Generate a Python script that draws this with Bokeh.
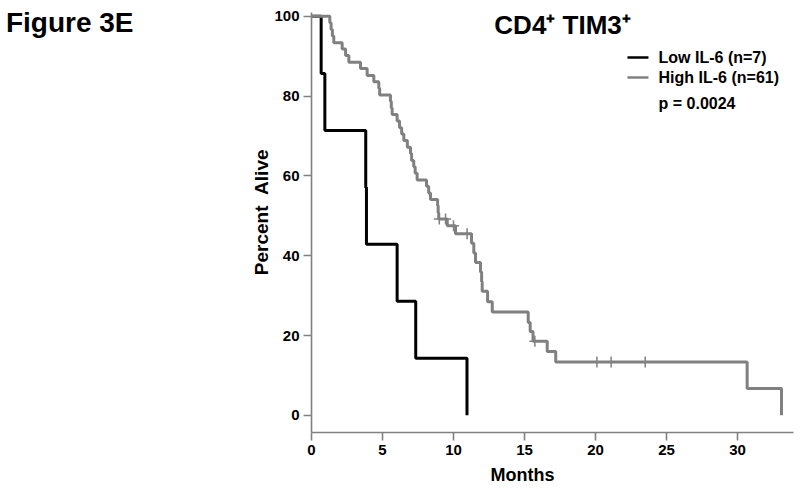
import numpy as np
from bokeh.plotting import figure
from bokeh.models import Label, Range1d, FixedTicker, LinearAxis
from bokeh.embed import file_html
from bokeh.resources import INLINE

# ---- data ----
low_t = [0, 0.68, 0.94, 3.82, 3.87, 6.03, 7.34, 10.95]
low_s = [100, 85.7, 71.4, 57.1, 42.9, 28.6, 14.3, 0]

high_t = [0, 1.29, 1.38, 1.47, 1.57, 2.16, 2.40, 2.63, 3.45, 3.92, 4.39, 4.74, 4.80,
          5.56, 5.62, 5.68, 6.03, 6.20, 6.35, 6.50, 6.75, 6.97, 7.05, 7.20, 7.30, 7.44,
          8.10, 8.25, 8.38, 8.88, 8.92, 8.96, 9.56, 10.14, 11.27, 11.43, 11.55, 11.90,
          11.98, 12.02, 12.40, 12.73, 15.26, 15.40, 15.60, 16.60, 17.20, 30.68, 33.10]
high_s = [100, 98.4, 96.7, 95.1, 93.4, 91.8, 90.2, 88.5, 86.9, 85.2, 83.6, 82.0, 80.3,
          78.7, 77.0, 75.4, 73.8, 72.1, 70.5, 68.9, 67.2, 65.6, 63.9, 62.3, 60.7, 59.0,
          57.4, 55.7, 54.1, 52.5, 50.8, 49.2, 47.5, 45.5, 43.1, 40.7, 38.3, 35.9,
          33.5, 31.1, 28.5, 25.9, 23.3, 21.0, 18.6, 16.0, 13.4, 6.7, 0]
high_censor_t = [9.0, 9.44, 10.0, 10.96, 15.73, 20.1, 21.1, 23.5]

x_ticks = [0, 5, 10, 15, 20, 25, 30]
y_ticks = [0, 20, 40, 60, 80, 100]

title_text = "CD4\u207a TIM3\u207a"
fig_label = "Figure 3E"
legend_labels = ["Low IL-6 (n=7)", "High IL-6 (n=61)"]
p_text = "p = 0.0024"
x_title = "Months"
y_title = "Percent\u00a0\u00a0Alive"

# ---- layout ----
W, H = 800, 489
LEFT, RIGHT, TOP, BOTTOM = 311, 7, 12, 57
XPX = 14.2   # px per month
YPX = 3.99   # px per percent
x_end = (W - LEFT - RIGHT) / XPX
frame_h = H - TOP - BOTTOM
y_start = -4.3
y_end = y_start + frame_h / YPX

LOW_C = "black"
HIGH_C = "#808080"
AX_C = "#808080"
FONT = "Liberation Sans"


def dx(px):  # canvas pixel x -> data
    return round((px - LEFT) / XPX, 2)


def dy(py):  # canvas pixel y -> data
    return round(y_start + (H - BOTTOM - py) / YPX, 2)


p = figure(width=W, height=H, x_range=Range1d(0, x_end), y_range=Range1d(y_start, y_end),
           min_border_left=LEFT, min_border_right=RIGHT, min_border_top=TOP,
           min_border_bottom=BOTTOM, toolbar_location=None, output_backend="svg")
p.outline_line_color = None
p.xgrid.visible = False
p.ygrid.visible = False
p.background_fill_color = "white"
p.border_fill_color = "white"

for ax in (p.xaxis[0], p.yaxis[0]):
    ax.axis_line_color = AX_C
    ax.axis_line_width = 1.6
    ax.major_tick_line_color = AX_C
    ax.major_tick_line_width = 1.6
    ax.major_tick_out = 8
    ax.major_tick_in = 0
    ax.minor_tick_line_color = None
    ax.major_label_text_font = FONT
    ax.major_label_text_font_style = "bold"
    ax.major_label_text_font_size = "15px"
    ax.major_label_text_color = "black"
    ax.major_label_standoff = 4

p.xaxis.ticker = FixedTicker(ticks=x_ticks)
p.yaxis.ticker = FixedTicker(ticks=y_ticks)


def text_axis(tick, label, size, standoff, orientation="horizontal"):
    ax = LinearAxis(ticker=FixedTicker(ticks=[tick]), major_label_overrides={tick: label})
    ax.axis_line_color = None
    ax.major_tick_line_color = None
    ax.minor_tick_line_color = None
    ax.major_tick_out = 0
    ax.major_tick_in = 0
    ax.major_label_standoff = standoff
    ax.major_label_orientation = orientation
    ax.major_label_text_font = FONT
    ax.major_label_text_font_style = "bold"
    ax.major_label_text_font_size = size
    ax.major_label_text_color = "black"
    return ax


# "Months" centred under the 0-30 ticks
p.add_layout(text_axis(dx(522), x_title, "18px", 7), "below")
# "Percent  Alive" beside the y ticks (label is anchored at its top end)
p.add_layout(text_axis(dy(149), y_title, "19px", 10, np.pi / 2), "left")
# "Figure 3E" in the top-left corner
p.add_layout(text_axis(dy(22), fig_label, "28px", 104), "left")

# curves
p.step(low_t, low_s, mode="after", line_color=LOW_C, line_width=3)
p.step(high_t, high_s, mode="after", line_color=HIGH_C, line_width=3)

ht = np.array(high_t)
hs = np.array(high_s)
idx = np.searchsorted(ht, np.array(high_censor_t), side="right") - 1
p.scatter(high_censor_t, hs[idx], marker="cross", size=11, line_color=HIGH_C, line_width=1.5)

# legend (manual)
sw_x0, sw_x1, tx = dx(627), dx(648), dx(658)
for lab, col, py in zip(legend_labels, [LOW_C, HIGH_C], [57, 77]):
    p.segment(x0=[sw_x0], y0=[dy(py)], x1=[sw_x1], y1=[dy(py)], line_color=col, line_width=2.5)
    p.add_layout(Label(x=tx, y=dy(py), text=lab, text_font=FONT, text_font_style="bold",
                       text_font_size="16px", text_color="black",
                       text_baseline="middle", text_align="left"))
p.add_layout(Label(x=tx, y=dy(103), text=p_text, text_font=FONT, text_font_style="bold",
                   text_font_size="16px", text_color="black",
                   text_baseline="middle", text_align="left"))

# title inside plot area
p.add_layout(Label(x=dx(562), y=dy(25), text=title_text, text_font=FONT,
                   text_font_style="bold", text_font_size="26px", text_color="black",
                   text_baseline="middle", text_align="center"))

open("out.html", "w").write(file_html(p, INLINE))
